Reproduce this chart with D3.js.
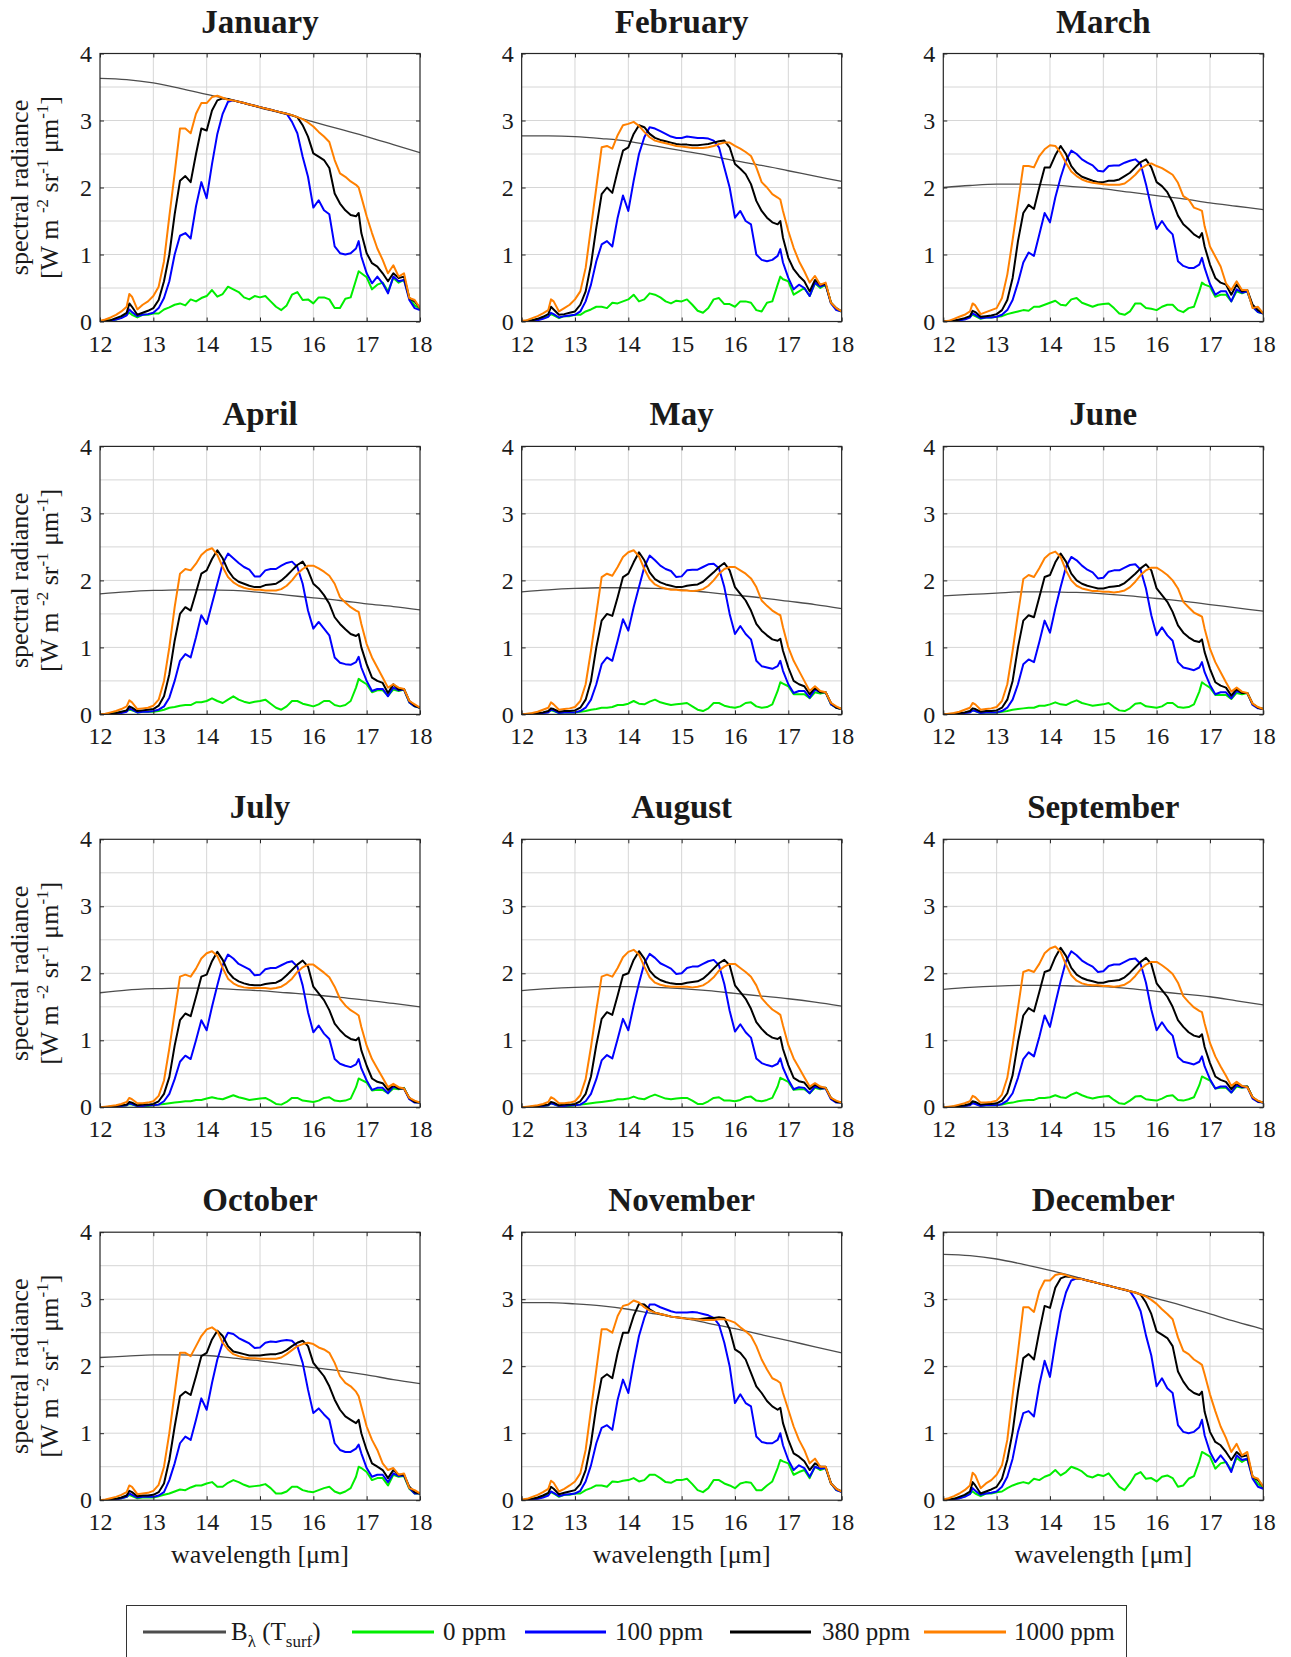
<!DOCTYPE html>
<html><head><meta charset="utf-8">
<script src="https://cdn.jsdelivr.net/npm/d3@7"></script>
<style>
body{margin:0;background:#fff}
svg text{font-family:"Liberation Serif","Times New Roman",serif;fill:#1a1a1a}
</style>
</head><body>
<svg id="chart" width="1291" height="1657"></svg>
<script>
// ---------------- DATA ----------------
const wavelength = [12.0,12.1,12.2,12.3,12.4,12.5,12.55,12.6,12.7,12.8,12.9,13.0,13.1,13.2,13.3,13.4,13.5,13.6,13.7,13.8,13.9,14.0,14.1,14.2,14.3,14.4,14.5,14.6,14.7,14.8,14.9,15.0,15.1,15.2,15.3,15.4,15.5,15.6,15.7,15.8,15.9,16.0,16.1,16.2,16.3,16.4,16.5,16.6,16.7,16.8,16.85,16.9,17.0,17.1,17.2,17.3,17.4,17.5,17.6,17.7,17.8,17.9,18.0];
const planckWavelength = [12,12.5,13,13.5,14,14.5,15,15.5,16,16.5,17,17.5,18];
const months = ["January","February","March","April","May","June","July","August","September","October","November","December"];
const legendLabels = ["0 ppm","100 ppm","380 ppm","1000 ppm"];
const xTickValues = [12,13,14,15,16,17,18];
const yTickValues = [0,1,2,3,4];

// January
const janPlanck = [3.63,3.61,3.56,3.48,3.39,3.30,3.19,3.09,2.98,2.87,2.76,2.64,2.52];
const janGreen = [0.00,0.01,0.02,0.03,0.06,0.10, 0.13, 0.10,0.06,0.10,0.10, 0.12,0.12,0.18,0.21,0.25,0.27,0.24,0.33,0.30,0.35, 0.38,0.47,0.37,0.41,0.52,0.48,0.44,0.36,0.33,0.38, 0.36,0.38,0.30,0.22,0.17,0.24,0.40,0.44,0.32,0.33, 0.27,0.36,0.36,0.33,0.20,0.20,0.34,0.36,0.62, 0.75, 0.72, 0.66,0.48,0.55,0.58,0.45,0.65,0.58,0.62,0.35,0.24, 0.19];
const janBlue = [0.00,0.00,0.01,0.03,0.05,0.09, 0.18, 0.14,0.08,0.10,0.11, 0.13,0.20,0.35,0.60,1.00,1.28,1.32,1.24,1.72,2.08, 1.84,2.35,2.80,3.10,3.28,3.30,3.28,3.26,3.24,3.22, 3.20,3.18,3.16,3.14,3.12,3.10,2.98,2.81,2.46,2.16, 1.70,1.81,1.66,1.60,1.12,1.02,1.00,1.02,1.09, 1.20, 0.97, 0.72,0.57,0.67,0.57,0.42,0.67,0.60,0.62,0.32,0.20, 0.17];
const janBlack = [0.00,0.01,0.02,0.05,0.08,0.13, 0.27, 0.22,0.10,0.13,0.16, 0.20,0.32,0.60,1.00,1.60,2.10,2.17,2.08,2.50,2.88, 2.85,3.15,3.30,3.33,3.32,3.30,3.28,3.26,3.24,3.22, 3.20,3.18,3.16,3.14,3.12,3.10,3.08,3.05,2.93,2.76, 2.51,2.46,2.41,2.29,1.91,1.76,1.66,1.59,1.57, 1.62, 1.32, 1.02,0.87,0.82,0.72,0.60,0.72,0.65,0.67,0.35,0.30, 0.20];
const janOrange = [0.01,0.03,0.06,0.10,0.15,0.22, 0.41, 0.37,0.18,0.25,0.30, 0.38,0.52,0.90,1.57,2.21,2.88,2.88,2.81,3.10,3.26, 3.26,3.35,3.37,3.34,3.31,3.30,3.28,3.26,3.24,3.22, 3.20,3.18,3.16,3.14,3.12,3.10,3.08,3.05,3.02,2.97, 2.91,2.83,2.76,2.68,2.41,2.21,2.16,2.09,2.04, 2.00, 1.86, 1.57,1.32,1.09,0.92,0.72,0.84,0.67,0.72,0.35,0.32, 0.20];

// February
const febPlanck = [2.77,2.77,2.76,2.73,2.69,2.62,2.55,2.48,2.40,2.33,2.25,2.17,2.09];
const febGreen = [0.00,0.01,0.02,0.03,0.05,0.08, 0.11, 0.09,0.05,0.08,0.08, 0.10,0.10,0.15,0.18,0.22,0.22,0.20,0.28,0.27,0.30, 0.33,0.40,0.30,0.33,0.42,0.40,0.36,0.30,0.27,0.31, 0.30,0.33,0.25,0.16,0.13,0.20,0.33,0.35,0.26,0.26, 0.22,0.30,0.30,0.28,0.17,0.15,0.28,0.30,0.55, 0.67, 0.63, 0.60,0.40,0.45,0.50,0.38,0.57,0.50,0.55,0.28,0.18, 0.15];
const febBlue = [0.00,0.00,0.01,0.02,0.04,0.07, 0.13, 0.11,0.06,0.08,0.09, 0.10,0.15,0.30,0.55,0.90,1.15,1.20,1.12,1.55,1.88, 1.65,2.10,2.50,2.75,2.90,2.88,2.84,2.80,2.76,2.74, 2.74,2.76,2.75,2.74,2.74,2.73,2.70,2.60,2.30,2.00, 1.55,1.65,1.50,1.45,1.00,0.92,0.90,0.92,0.98, 1.08, 0.88, 0.65,0.48,0.55,0.50,0.38,0.58,0.52,0.55,0.27,0.17, 0.15];
const febBlack = [0.00,0.01,0.02,0.04,0.07,0.11, 0.22, 0.18,0.10,0.11,0.13, 0.15,0.25,0.45,0.85,1.40,1.90,2.00,1.92,2.25,2.55, 2.60,2.80,2.93,2.90,2.80,2.74,2.71,2.69,2.67,2.65, 2.64,2.64,2.63,2.63,2.64,2.65,2.67,2.69,2.70,2.60, 2.35,2.28,2.20,2.05,1.80,1.65,1.55,1.48,1.45, 1.50, 1.25, 0.95,0.78,0.68,0.60,0.45,0.62,0.55,0.56,0.28,0.20, 0.15];
const febOrange = [0.01,0.02,0.05,0.08,0.12,0.17, 0.33, 0.30,0.15,0.20,0.25, 0.33,0.45,0.80,1.40,2.00,2.60,2.62,2.58,2.78,2.93, 2.95,2.98,2.92,2.83,2.75,2.70,2.68,2.66,2.64,2.62, 2.61,2.60,2.59,2.59,2.59,2.60,2.62,2.65,2.67,2.67, 2.62,2.58,2.53,2.47,2.30,2.08,2.00,1.90,1.85, 1.82, 1.65, 1.35,1.10,0.90,0.75,0.58,0.68,0.55,0.58,0.28,0.20, 0.15];

// March
const marPlanck = [2.00,2.03,2.05,2.05,2.04,2.01,1.98,1.93,1.88,1.83,1.77,1.72,1.67];
const marGreen = [0.00,0.00,0.01,0.02,0.04,0.07, 0.10, 0.08,0.04,0.06,0.06, 0.07,0.08,0.11,0.13,0.15,0.17,0.16,0.22,0.22,0.25, 0.28,0.31,0.25,0.24,0.33,0.35,0.28,0.25,0.22,0.25, 0.26,0.27,0.20,0.12,0.10,0.15,0.27,0.27,0.20,0.19, 0.17,0.22,0.25,0.25,0.17,0.14,0.20,0.22,0.45, 0.58, 0.55, 0.52,0.37,0.40,0.40,0.30,0.45,0.42,0.45,0.22,0.14, 0.12];
const marBlue = [0.00,0.00,0.01,0.02,0.03,0.06, 0.12, 0.10,0.05,0.06,0.06, 0.07,0.10,0.17,0.32,0.58,0.88,1.03,0.98,1.30,1.62, 1.48,1.85,2.15,2.40,2.55,2.50,2.42,2.37,2.33,2.25, 2.24,2.32,2.33,2.33,2.37,2.40,2.42,2.35,2.05,1.70, 1.38,1.50,1.38,1.30,0.90,0.83,0.80,0.80,0.85, 0.95, 0.80, 0.56,0.40,0.45,0.45,0.30,0.48,0.43,0.45,0.22,0.14, 0.12];
const marBlack = [0.00,0.00,0.01,0.03,0.05,0.08, 0.16, 0.14,0.07,0.08,0.09, 0.11,0.17,0.32,0.65,1.20,1.62,1.74,1.68,2.00,2.30, 2.30,2.48,2.62,2.50,2.32,2.22,2.16,2.13,2.10,2.08, 2.08,2.10,2.10,2.12,2.17,2.22,2.30,2.38,2.42,2.30, 2.08,2.02,1.93,1.78,1.58,1.45,1.38,1.30,1.25, 1.32, 1.12, 0.85,0.65,0.58,0.55,0.40,0.55,0.45,0.47,0.25,0.17, 0.12];
const marOrange = [0.00,0.01,0.04,0.07,0.10,0.15, 0.27, 0.24,0.11,0.14,0.17, 0.20,0.35,0.70,1.22,1.77,2.32,2.32,2.30,2.47,2.57, 2.63,2.62,2.52,2.37,2.24,2.17,2.12,2.09,2.07,2.06, 2.05,2.04,2.04,2.04,2.06,2.12,2.19,2.28,2.33,2.36, 2.32,2.29,2.24,2.19,2.07,1.87,1.82,1.70,1.67, 1.65, 1.42, 1.12,0.97,0.82,0.57,0.47,0.60,0.47,0.47,0.20,0.22, 0.12];

// April
const aprPlanck = [1.80,1.83,1.85,1.86,1.86,1.85,1.82,1.78,1.74,1.70,1.65,1.61,1.56];
const aprGreen = [0.00,0.00,0.01,0.02,0.03,0.05, 0.07, 0.06,0.03,0.04,0.04, 0.04,0.05,0.07,0.10,0.11,0.13,0.14,0.14,0.18,0.18, 0.20,0.24,0.20,0.17,0.22,0.27,0.22,0.19,0.17,0.19, 0.20,0.22,0.16,0.10,0.07,0.12,0.20,0.20,0.16,0.14, 0.12,0.15,0.20,0.20,0.14,0.12,0.14,0.20,0.40, 0.53, 0.50, 0.45,0.33,0.36,0.36,0.28,0.37,0.35,0.37,0.18,0.12, 0.10];
const aprBlue = [0.00,0.00,0.00,0.01,0.02,0.04, 0.09, 0.07,0.03,0.04,0.04, 0.05,0.07,0.12,0.25,0.50,0.80,0.90,0.85,1.15,1.48, 1.35,1.65,1.95,2.25,2.40,2.33,2.26,2.20,2.16,2.06, 2.06,2.15,2.17,2.17,2.22,2.26,2.28,2.20,1.95,1.55, 1.28,1.38,1.28,1.18,0.85,0.77,0.75,0.74,0.78, 0.86, 0.70, 0.50,0.35,0.38,0.38,0.27,0.40,0.36,0.37,0.18,0.12, 0.10];
const aprBlack = [0.00,0.00,0.01,0.02,0.04,0.06, 0.12, 0.10,0.05,0.06,0.07, 0.08,0.13,0.27,0.60,1.10,1.50,1.60,1.55,1.82,2.10, 2.15,2.32,2.45,2.33,2.15,2.04,1.98,1.95,1.92,1.90, 1.90,1.93,1.94,1.95,2.00,2.07,2.15,2.23,2.28,2.15, 1.95,1.88,1.78,1.65,1.45,1.35,1.27,1.20,1.17, 1.20, 1.00, 0.75,0.55,0.50,0.47,0.32,0.45,0.37,0.38,0.20,0.13, 0.10];
const aprOrange = [0.00,0.01,0.03,0.05,0.08,0.12, 0.21, 0.18,0.08,0.09,0.10, 0.13,0.22,0.50,1.00,1.60,2.10,2.17,2.15,2.25,2.38, 2.45,2.48,2.38,2.20,2.05,1.97,1.92,1.89,1.87,1.86, 1.86,1.85,1.85,1.85,1.87,1.92,2.00,2.10,2.17,2.22, 2.22,2.18,2.13,2.07,1.95,1.75,1.67,1.60,1.55, 1.53, 1.35, 1.05,0.85,0.70,0.55,0.40,0.45,0.40,0.38,0.20,0.15, 0.10];

// May
const mayPlanck = [1.83,1.86,1.88,1.89,1.89,1.88,1.86,1.82,1.78,1.74,1.69,1.64,1.58];
const mayGreen = [0.00,0.00,0.01,0.01,0.02,0.04, 0.06, 0.05,0.02,0.03,0.03, 0.03,0.04,0.05,0.07,0.08,0.10,0.10,0.11,0.14,0.14, 0.16,0.20,0.16,0.15,0.19,0.22,0.18,0.16,0.14,0.15, 0.16,0.17,0.12,0.07,0.05,0.09,0.17,0.17,0.13,0.11, 0.10,0.12,0.17,0.18,0.12,0.10,0.11,0.15,0.35, 0.48, 0.46, 0.42,0.30,0.30,0.30,0.24,0.33,0.31,0.33,0.15,0.10, 0.08];
const mayBlue = [0.00,0.00,0.00,0.01,0.02,0.03, 0.07, 0.06,0.02,0.03,0.03, 0.03,0.05,0.10,0.22,0.45,0.75,0.85,0.80,1.10,1.42, 1.25,1.60,1.90,2.20,2.37,2.30,2.22,2.17,2.14,2.05, 2.06,2.15,2.16,2.16,2.20,2.24,2.25,2.18,1.90,1.50, 1.20,1.32,1.20,1.12,0.80,0.72,0.70,0.68,0.72, 0.80, 0.65, 0.45,0.32,0.35,0.35,0.25,0.37,0.33,0.33,0.15,0.10, 0.08];
const mayBlack = [0.00,0.00,0.01,0.02,0.03,0.05, 0.09, 0.08,0.04,0.05,0.05, 0.06,0.10,0.22,0.50,1.00,1.40,1.50,1.47,1.75,2.05, 2.10,2.27,2.42,2.30,2.12,2.02,1.97,1.94,1.92,1.90, 1.90,1.92,1.93,1.94,1.98,2.05,2.12,2.20,2.26,2.15, 1.90,1.80,1.70,1.55,1.35,1.25,1.18,1.12,1.10, 1.13, 0.95, 0.70,0.50,0.45,0.42,0.30,0.40,0.33,0.33,0.17,0.10, 0.08];
const mayOrange = [0.00,0.01,0.02,0.04,0.07,0.10, 0.18, 0.15,0.07,0.08,0.09, 0.11,0.20,0.45,0.95,1.50,2.05,2.10,2.07,2.20,2.35, 2.42,2.45,2.36,2.17,2.02,1.94,1.90,1.88,1.86,1.86, 1.85,1.85,1.84,1.85,1.87,1.92,2.00,2.10,2.17,2.20, 2.20,2.15,2.10,2.03,1.90,1.70,1.62,1.55,1.50, 1.48, 1.30, 1.00,0.80,0.65,0.50,0.35,0.42,0.35,0.33,0.17,0.12, 0.08];

// June
const junPlanck = [1.77,1.79,1.81,1.83,1.83,1.82,1.80,1.77,1.73,1.69,1.64,1.59,1.54];
const junGreen = [0.00,0.00,0.01,0.01,0.02,0.04, 0.06, 0.05,0.02,0.03,0.03, 0.03,0.04,0.05,0.07,0.08,0.09,0.10,0.10,0.13,0.13, 0.15,0.18,0.15,0.14,0.18,0.21,0.17,0.15,0.13,0.14, 0.15,0.17,0.11,0.06,0.05,0.09,0.16,0.17,0.12,0.11, 0.10,0.12,0.17,0.17,0.11,0.10,0.11,0.15,0.34, 0.48, 0.45, 0.40,0.29,0.29,0.29,0.23,0.32,0.30,0.32,0.15,0.10, 0.08];
const junBlue = [0.00,0.00,0.00,0.01,0.02,0.03, 0.06, 0.05,0.02,0.03,0.03, 0.03,0.05,0.10,0.22,0.45,0.75,0.82,0.78,1.08,1.40, 1.22,1.58,1.90,2.20,2.35,2.30,2.22,2.16,2.12,2.03, 2.04,2.13,2.15,2.15,2.19,2.23,2.24,2.16,1.88,1.48, 1.18,1.30,1.18,1.10,0.78,0.70,0.68,0.66,0.70, 0.78, 0.63, 0.44,0.30,0.33,0.33,0.24,0.35,0.32,0.32,0.14,0.09, 0.08];
const junBlack = [0.00,0.00,0.01,0.02,0.03,0.05, 0.09, 0.08,0.04,0.05,0.05, 0.06,0.10,0.22,0.50,1.00,1.40,1.48,1.45,1.75,2.05, 2.08,2.27,2.40,2.28,2.10,2.00,1.95,1.92,1.90,1.88, 1.88,1.90,1.91,1.92,1.96,2.03,2.10,2.18,2.24,2.15, 1.88,1.78,1.68,1.53,1.33,1.22,1.15,1.10,1.08, 1.12, 0.93, 0.68,0.48,0.43,0.40,0.28,0.38,0.32,0.32,0.16,0.10, 0.08];
const junOrange = [0.00,0.01,0.02,0.04,0.07,0.10, 0.17, 0.15,0.07,0.08,0.09, 0.11,0.20,0.45,0.95,1.50,2.02,2.08,2.05,2.18,2.33, 2.40,2.43,2.35,2.15,2.00,1.92,1.88,1.86,1.84,1.84, 1.83,1.83,1.82,1.83,1.85,1.90,1.98,2.08,2.15,2.19, 2.19,2.14,2.08,2.00,1.88,1.68,1.60,1.52,1.48, 1.46, 1.28, 0.98,0.78,0.63,0.48,0.34,0.40,0.34,0.32,0.16,0.11, 0.08];

// July
const julPlanck = [1.71,1.75,1.77,1.78,1.78,1.76,1.74,1.71,1.68,1.64,1.60,1.55,1.50];
const julGreen = [0.00,0.00,0.01,0.01,0.02,0.03, 0.05, 0.04,0.02,0.02,0.02, 0.03,0.04,0.05,0.06,0.07,0.08,0.09,0.09,0.11,0.11, 0.13,0.15,0.13,0.12,0.15,0.18,0.15,0.13,0.11,0.12, 0.13,0.14,0.10,0.05,0.04,0.08,0.14,0.14,0.10,0.09, 0.08,0.10,0.14,0.15,0.10,0.09,0.10,0.13,0.30, 0.43, 0.41, 0.37,0.25,0.26,0.26,0.21,0.28,0.27,0.29,0.13,0.08, 0.07];
const julBlue = [0.00,0.00,0.00,0.01,0.02,0.03, 0.06, 0.05,0.02,0.02,0.03, 0.03,0.04,0.09,0.20,0.42,0.68,0.77,0.72,1.00,1.30, 1.15,1.50,1.82,2.12,2.28,2.22,2.14,2.10,2.06,1.97, 1.98,2.06,2.08,2.08,2.12,2.16,2.18,2.10,1.82,1.42, 1.12,1.22,1.10,1.02,0.72,0.65,0.62,0.60,0.64, 0.72, 0.58, 0.40,0.26,0.29,0.29,0.21,0.31,0.28,0.28,0.12,0.07, 0.07];
const julBlack = [0.00,0.00,0.01,0.02,0.03,0.04, 0.08, 0.07,0.03,0.04,0.04, 0.05,0.09,0.20,0.45,0.92,1.30,1.40,1.36,1.65,1.95, 1.98,2.18,2.32,2.20,2.02,1.93,1.88,1.85,1.83,1.82, 1.82,1.84,1.85,1.86,1.90,1.97,2.05,2.13,2.19,2.10, 1.80,1.70,1.60,1.45,1.25,1.15,1.07,1.02,1.00, 1.04, 0.85, 0.62,0.43,0.38,0.36,0.26,0.33,0.28,0.28,0.14,0.08, 0.07];
const julOrange = [0.00,0.01,0.02,0.03,0.05,0.08, 0.14, 0.12,0.06,0.06,0.07, 0.09,0.17,0.40,0.88,1.42,1.95,1.98,1.95,2.07,2.22, 2.30,2.33,2.26,2.08,1.92,1.85,1.81,1.79,1.78,1.78, 1.78,1.78,1.77,1.78,1.80,1.85,1.92,2.02,2.09,2.13, 2.13,2.07,2.01,1.94,1.80,1.62,1.52,1.45,1.40, 1.37, 1.20, 0.92,0.72,0.58,0.44,0.30,0.35,0.30,0.28,0.14,0.10, 0.07];

// August
const augPlanck = [1.74,1.77,1.79,1.80,1.80,1.79,1.77,1.74,1.70,1.66,1.62,1.57,1.51];
const augGreen = [0.00,0.00,0.01,0.01,0.02,0.03, 0.06, 0.05,0.02,0.02,0.02, 0.03,0.04,0.05,0.06,0.07,0.08,0.09,0.10,0.12,0.12, 0.13,0.16,0.13,0.12,0.16,0.19,0.16,0.13,0.12,0.13, 0.14,0.14,0.10,0.05,0.05,0.09,0.14,0.15,0.10,0.10, 0.09,0.11,0.15,0.16,0.10,0.09,0.11,0.14,0.31, 0.44, 0.42, 0.38,0.26,0.27,0.27,0.21,0.29,0.27,0.29,0.13,0.08, 0.07];
const augBlue = [0.00,0.00,0.00,0.01,0.02,0.03, 0.06, 0.05,0.02,0.02,0.03, 0.03,0.04,0.09,0.20,0.42,0.70,0.78,0.73,1.02,1.32, 1.15,1.52,1.85,2.15,2.29,2.23,2.15,2.11,2.07,1.99, 2.00,2.08,2.10,2.10,2.14,2.18,2.20,2.12,1.84,1.44, 1.13,1.24,1.12,1.04,0.73,0.66,0.63,0.61,0.65, 0.73, 0.59, 0.41,0.27,0.30,0.29,0.21,0.31,0.28,0.28,0.12,0.07, 0.07];
const augBlack = [0.00,0.00,0.01,0.02,0.03,0.04, 0.08, 0.07,0.03,0.04,0.04, 0.05,0.09,0.20,0.46,0.93,1.32,1.42,1.38,1.67,1.97, 2.00,2.20,2.33,2.22,2.04,1.95,1.90,1.87,1.85,1.84, 1.84,1.86,1.87,1.88,1.92,1.99,2.07,2.15,2.20,2.12, 1.82,1.72,1.62,1.47,1.27,1.17,1.09,1.04,1.02, 1.05, 0.87, 0.63,0.44,0.39,0.37,0.27,0.34,0.29,0.29,0.14,0.08, 0.07];
const augOrange = [0.00,0.01,0.02,0.03,0.05,0.08, 0.15, 0.13,0.06,0.06,0.07, 0.09,0.18,0.42,0.90,1.45,1.95,1.98,1.95,2.08,2.24, 2.32,2.35,2.28,2.10,1.94,1.86,1.83,1.81,1.80,1.80, 1.80,1.80,1.79,1.80,1.82,1.87,1.94,2.04,2.10,2.14, 2.14,2.08,2.02,1.95,1.82,1.63,1.54,1.46,1.41, 1.38, 1.22, 0.93,0.73,0.59,0.45,0.31,0.36,0.31,0.29,0.14,0.10, 0.07];

// September
const sepPlanck = [1.76,1.79,1.81,1.82,1.82,1.81,1.80,1.77,1.73,1.69,1.65,1.59,1.53];
const sepGreen = [0.00,0.00,0.01,0.01,0.02,0.04, 0.07, 0.06,0.02,0.03,0.03, 0.03,0.04,0.06,0.07,0.09,0.10,0.11,0.11,0.14,0.14, 0.15,0.18,0.15,0.14,0.19,0.22,0.18,0.15,0.13,0.15, 0.16,0.17,0.11,0.06,0.05,0.10,0.16,0.17,0.12,0.11, 0.10,0.13,0.17,0.18,0.11,0.10,0.12,0.15,0.33, 0.46, 0.44, 0.40,0.28,0.29,0.29,0.22,0.31,0.29,0.31,0.14,0.09, 0.07];
const sepBlue = [0.00,0.00,0.00,0.01,0.02,0.03, 0.06, 0.05,0.02,0.03,0.03, 0.03,0.05,0.10,0.21,0.44,0.72,0.82,0.76,1.05,1.37, 1.20,1.55,1.88,2.18,2.33,2.27,2.19,2.14,2.10,2.02, 2.03,2.11,2.13,2.13,2.17,2.21,2.22,2.14,1.86,1.46, 1.15,1.27,1.15,1.07,0.75,0.68,0.66,0.64,0.68, 0.76, 0.61, 0.42,0.28,0.31,0.31,0.22,0.33,0.30,0.30,0.13,0.08, 0.07];
const sepBlack = [0.00,0.00,0.01,0.02,0.03,0.05, 0.09, 0.08,0.04,0.05,0.05, 0.06,0.10,0.21,0.48,0.97,1.37,1.48,1.43,1.72,2.02, 2.05,2.24,2.38,2.26,2.08,1.98,1.93,1.90,1.88,1.86, 1.86,1.88,1.89,1.90,1.94,2.01,2.09,2.17,2.23,2.14, 1.85,1.75,1.65,1.50,1.30,1.20,1.12,1.07,1.05, 1.09, 0.90, 0.66,0.46,0.41,0.38,0.27,0.36,0.31,0.31,0.15,0.09, 0.07];
const sepOrange = [0.00,0.01,0.02,0.04,0.06,0.09, 0.17, 0.15,0.07,0.07,0.08, 0.10,0.19,0.44,0.93,1.48,2.02,2.05,2.02,2.14,2.30, 2.37,2.40,2.32,2.13,1.97,1.89,1.85,1.83,1.82,1.82, 1.81,1.81,1.80,1.81,1.83,1.88,1.96,2.06,2.13,2.17, 2.17,2.12,2.06,1.99,1.86,1.66,1.57,1.49,1.44, 1.42, 1.25, 0.96,0.76,0.61,0.47,0.32,0.38,0.32,0.30,0.15,0.10, 0.07];

// October
const octPlanck = [2.13,2.15,2.17,2.17,2.16,2.12,2.08,2.03,1.98,1.93,1.87,1.80,1.74];
const octGreen = [0.00,0.00,0.01,0.02,0.03,0.05, 0.08, 0.06,0.03,0.04,0.04, 0.04,0.06,0.08,0.10,0.13,0.16,0.15,0.19,0.22,0.22, 0.25,0.27,0.20,0.20,0.26,0.30,0.27,0.23,0.20,0.21, 0.22,0.24,0.18,0.10,0.10,0.13,0.20,0.20,0.15,0.13, 0.12,0.15,0.18,0.20,0.13,0.10,0.13,0.18,0.35, 0.50, 0.48, 0.42,0.30,0.33,0.33,0.22,0.38,0.35,0.36,0.17,0.10, 0.10];
const octBlue = [0.00,0.00,0.01,0.01,0.03,0.05, 0.10, 0.08,0.04,0.05,0.05, 0.05,0.07,0.12,0.30,0.55,0.85,0.95,0.90,1.20,1.52, 1.35,1.75,2.10,2.35,2.50,2.48,2.42,2.38,2.34,2.27, 2.28,2.35,2.37,2.36,2.38,2.39,2.38,2.30,2.05,1.65, 1.30,1.37,1.28,1.20,0.85,0.75,0.72,0.72,0.77, 0.83, 0.70, 0.48,0.35,0.38,0.38,0.27,0.40,0.36,0.37,0.18,0.10, 0.10];
const octBlack = [0.00,0.00,0.01,0.02,0.04,0.07, 0.14, 0.12,0.06,0.07,0.07, 0.08,0.12,0.25,0.60,1.10,1.55,1.62,1.57,1.85,2.15, 2.20,2.40,2.53,2.45,2.30,2.22,2.20,2.18,2.16,2.16, 2.16,2.17,2.18,2.18,2.20,2.24,2.30,2.35,2.38,2.30, 2.05,1.95,1.85,1.70,1.50,1.35,1.25,1.20,1.15, 1.20, 1.00, 0.75,0.55,0.50,0.45,0.33,0.45,0.38,0.38,0.20,0.12, 0.10];
const octOrange = [0.00,0.01,0.03,0.05,0.08,0.12, 0.22, 0.20,0.09,0.10,0.11, 0.14,0.23,0.50,1.00,1.60,2.20,2.20,2.15,2.30,2.45, 2.55,2.58,2.52,2.35,2.25,2.18,2.15,2.13,2.12,2.12, 2.11,2.11,2.11,2.11,2.13,2.18,2.24,2.30,2.33,2.35, 2.33,2.28,2.25,2.20,2.05,1.85,1.75,1.70,1.62, 1.55, 1.40, 1.10,0.90,0.75,0.55,0.45,0.48,0.38,0.40,0.18,0.15, 0.10];

// November
const novPlanck = [2.95,2.95,2.93,2.90,2.85,2.78,2.72,2.64,2.56,2.47,2.38,2.29,2.20];
const novGreen = [0.00,0.01,0.02,0.03,0.05,0.09, 0.12, 0.10,0.05,0.08,0.08, 0.10,0.10,0.15,0.18,0.22,0.22,0.20,0.28,0.27,0.29, 0.30,0.33,0.28,0.30,0.38,0.38,0.33,0.27,0.26,0.30, 0.30,0.32,0.24,0.15,0.12,0.18,0.30,0.30,0.25,0.22, 0.18,0.25,0.27,0.26,0.15,0.15,0.22,0.28,0.48, 0.60, 0.58, 0.55,0.38,0.42,0.45,0.33,0.50,0.45,0.48,0.25,0.15, 0.13];
const novBlue = [0.00,0.00,0.01,0.02,0.04,0.07, 0.13, 0.11,0.06,0.08,0.09, 0.10,0.14,0.28,0.52,0.85,1.08,1.12,1.05,1.50,1.80, 1.60,2.05,2.45,2.72,2.92,2.92,2.88,2.85,2.82,2.80, 2.80,2.80,2.81,2.80,2.78,2.76,2.72,2.62,2.35,2.00, 1.45,1.58,1.45,1.40,0.95,0.87,0.85,0.85,0.90, 1.00, 0.82, 0.60,0.45,0.52,0.48,0.35,0.50,0.47,0.48,0.25,0.15, 0.12];
const novBlack = [0.00,0.01,0.02,0.04,0.07,0.11, 0.20, 0.17,0.09,0.11,0.13, 0.15,0.24,0.45,0.85,1.40,1.82,1.88,1.82,2.20,2.50, 2.50,2.75,2.93,2.92,2.85,2.80,2.78,2.76,2.74,2.73, 2.72,2.71,2.71,2.70,2.71,2.72,2.72,2.73,2.72,2.55, 2.25,2.20,2.10,1.90,1.70,1.60,1.48,1.40,1.35, 1.38, 1.15, 0.90,0.70,0.65,0.58,0.45,0.55,0.50,0.50,0.25,0.17, 0.13];
const novOrange = [0.01,0.02,0.05,0.08,0.12,0.17, 0.29, 0.26,0.13,0.17,0.22, 0.28,0.40,0.75,1.35,1.95,2.55,2.55,2.50,2.75,2.90, 2.92,2.98,2.95,2.88,2.83,2.80,2.78,2.76,2.74,2.73, 2.72,2.71,2.70,2.70,2.69,2.69,2.69,2.70,2.70,2.68, 2.65,2.58,2.52,2.45,2.30,2.10,1.95,1.82,1.78, 1.75, 1.60, 1.35,1.10,0.90,0.75,0.55,0.62,0.50,0.50,0.25,0.17, 0.13];

// December
const decPlanck = [3.67,3.65,3.60,3.52,3.43,3.33,3.22,3.12,3.01,2.90,2.78,2.66,2.55];
const decGreen = [0.00,0.01,0.02,0.03,0.06,0.10, 0.13, 0.10,0.06,0.10,0.10, 0.12,0.13,0.18,0.22,0.25,0.27,0.25,0.32,0.30,0.35, 0.38,0.45,0.37,0.42,0.50,0.47,0.43,0.36,0.34,0.38, 0.36,0.40,0.30,0.20,0.15,0.25,0.38,0.42,0.32,0.33, 0.28,0.35,0.37,0.33,0.20,0.22,0.32,0.36,0.58, 0.72, 0.70, 0.65,0.47,0.55,0.57,0.45,0.63,0.57,0.62,0.35,0.24, 0.19];
const decBlue = [0.00,0.00,0.01,0.03,0.05,0.09, 0.18, 0.14,0.08,0.10,0.11, 0.13,0.20,0.35,0.62,1.02,1.30,1.33,1.25,1.72,2.08, 1.84,2.35,2.80,3.10,3.28,3.31,3.30,3.28,3.26,3.24, 3.22,3.20,3.18,3.16,3.14,3.12,3.00,2.82,2.46,2.16, 1.70,1.82,1.67,1.60,1.12,1.02,1.00,1.02,1.09, 1.20, 0.97, 0.72,0.57,0.67,0.57,0.42,0.67,0.60,0.62,0.32,0.20, 0.17];
const decBlack = [0.00,0.01,0.02,0.05,0.08,0.13, 0.27, 0.22,0.10,0.13,0.16, 0.20,0.32,0.60,1.02,1.62,2.12,2.18,2.10,2.52,2.90, 2.87,3.17,3.31,3.34,3.33,3.31,3.30,3.28,3.26,3.24, 3.22,3.20,3.18,3.16,3.14,3.12,3.10,3.07,2.95,2.78, 2.52,2.47,2.42,2.30,1.92,1.77,1.66,1.60,1.57, 1.62, 1.32, 1.02,0.87,0.82,0.72,0.60,0.72,0.65,0.67,0.35,0.30, 0.20];
const decOrange = [0.01,0.03,0.06,0.10,0.15,0.22, 0.41, 0.37,0.18,0.25,0.30, 0.38,0.52,0.90,1.57,2.21,2.88,2.88,2.81,3.12,3.28, 3.28,3.36,3.38,3.36,3.33,3.31,3.30,3.28,3.26,3.24, 3.22,3.20,3.18,3.16,3.14,3.12,3.10,3.07,3.04,2.99, 2.93,2.85,2.78,2.70,2.43,2.23,2.18,2.10,2.05, 2.02, 1.88, 1.58,1.33,1.10,0.93,0.72,0.84,0.67,0.72,0.35,0.32, 0.20];

// ---------------- BUILD ----------------
const monthSeries = [
  [janPlanck, janGreen, janBlue, janBlack, janOrange],
  [febPlanck, febGreen, febBlue, febBlack, febOrange],
  [marPlanck, marGreen, marBlue, marBlack, marOrange],
  [aprPlanck, aprGreen, aprBlue, aprBlack, aprOrange],
  [mayPlanck, mayGreen, mayBlue, mayBlack, mayOrange],
  [junPlanck, junGreen, junBlue, junBlack, junOrange],
  [julPlanck, julGreen, julBlue, julBlack, julOrange],
  [augPlanck, augGreen, augBlue, augBlack, augOrange],
  [sepPlanck, sepGreen, sepBlue, sepBlack, sepOrange],
  [octPlanck, octGreen, octBlue, octBlack, octOrange],
  [novPlanck, novGreen, novBlue, novBlack, novOrange],
  [decPlanck, decGreen, decBlue, decBlack, decOrange]
];
const seriesColors = ["#00ee00","#0000ff","#000000","#ff8000"];
const planckColor = "#4d4d4d";

const svg = d3.select("#chart");
svg.append("rect").attr("width",1291).attr("height",1657).attr("fill","#fff");

const W = 320, H = 268;
const left0 = 100, colStep = 421.65, top0 = 53.5, rowStep = 392.9;

const x = d3.scaleLinear().domain([12,18]).range([0,W]);
const y = d3.scaleLinear().domain([0,4]).range([H,0]);

months.forEach((name, i) => {
  const col = i % 3, row = Math.floor(i / 3);
  const gx = left0 + col*colStep, gy = top0 + row*rowStep;
  const g = svg.append("g").attr("transform", `translate(${gx},${gy})`);
  const clipId = "clip" + i;
  g.append("clipPath").attr("id", clipId).append("rect").attr("width", W).attr("height", H);

  // grid
  const grid = g.append("g");
  grid.selectAll("line.gx").data([13,14,15,16,17]).join("line")
    .attr("x1", d=>x(d)).attr("x2", d=>x(d)).attr("y1",0).attr("y2",H)
    .attr("stroke","#d6d6d6").attr("stroke-width",1);
  grid.selectAll("line.gy").data([0.5,1,1.5,2,2.5,3,3.5]).join("line")
    .attr("y1", d=>y(d)).attr("y2", d=>y(d)).attr("x1",0).attr("x2",W)
    .attr("stroke","#d6d6d6").attr("stroke-width",1);

  // data
  const [planck, ...spectra] = monthSeries[i];
  const plot = g.append("g").attr("clip-path", `url(#${clipId})`);
  const planckLine = d3.line().x((d,j)=>x(planckWavelength[j])).y(d=>y(d)).curve(d3.curveMonotoneX);
  plot.append("path").attr("d", planckLine(planck)).attr("fill","none")
    .attr("stroke", planckColor).attr("stroke-width",1.3);
  const specLine = d3.line().x((d,j)=>x(wavelength[j])).y(d=>y(d));
  spectra.forEach((s, k) => {
    if (s.length !== wavelength.length) console.error("length mismatch", name, k, s.length);
    plot.append("path").attr("d", specLine(s)).attr("fill","none")
      .attr("stroke", seriesColors[k]).attr("stroke-width",2)
      .attr("stroke-linejoin","round");
  });

  // axes
  const ax = g.append("g").attr("transform",`translate(0,${H})`)
    .call(d3.axisBottom(x).tickValues(xTickValues).tickSizeInner(-4).tickSizeOuter(0).tickPadding(13).tickFormat(d3.format("d")));
  const ay = g.append("g")
    .call(d3.axisLeft(y).tickValues(yTickValues).tickSizeInner(-4).tickSizeOuter(0).tickPadding(8).tickFormat(d3.format("d")));
  const axT = g.append("g").call(d3.axisTop(x).tickValues(xTickValues).tickSizeInner(-4).tickSizeOuter(0).tickFormat(""));
  const ayR = g.append("g").attr("transform",`translate(${W},0)`)
    .call(d3.axisRight(y).tickValues(yTickValues).tickSizeInner(-4).tickSizeOuter(0).tickFormat(""));
  [ax, ay, axT, ayR].forEach(a => {
    a.select(".domain").remove();
    a.selectAll(".tick line").attr("stroke","#262626");
    a.selectAll(".tick text").attr("font-size",24).attr("font-family","Liberation Serif").attr("fill","#1a1a1a");
  });

  // box
  g.append("rect").attr("width",W).attr("height",H).attr("fill","none")
    .attr("stroke","#262626").attr("stroke-width",1.2);

  // title
  g.append("text").attr("x", W/2).attr("y", -21).attr("text-anchor","middle")
    .attr("font-size",33).attr("font-weight","bold").text(name);

  // y label
  if (col === 0) {
    const yl = svg.append("g").attr("transform", `translate(0,${gy + H/2}) rotate(-90)`);
    yl.append("text").attr("x",0).attr("y",28).attr("text-anchor","middle")
      .attr("font-size",26).text("spectral radiance");
    const t2 = yl.append("text").attr("x",0).attr("y",58).attr("text-anchor","middle").attr("font-size",26);
    t2.append("tspan").text("[W m ");
    t2.append("tspan").attr("font-size",17).attr("dy",-10).text("-2");
    t2.append("tspan").attr("dy",10).text(" sr");
    t2.append("tspan").attr("font-size",17).attr("dy",-10).text("-1");
    t2.append("tspan").attr("dy",10).text(" μm");
    t2.append("tspan").attr("font-size",17).attr("dy",-10).text("-1");
    t2.append("tspan").attr("dy",10).text("]");
  }
  // x label
  if (row === 3) {
    svg.append("text").attr("x", gx + W/2).attr("y", 1563).attr("text-anchor","middle")
      .attr("font-size",26).text("wavelength [μm]");
  }
});

// ---------------- LEGEND ----------------
const lg = svg.append("g");
lg.append("rect").attr("x",126.5).attr("y",1605.5).attr("width",1000).attr("height",120)
  .attr("fill","#fff").attr("stroke","#333").attr("stroke-width",1);
const legendItems = [
  {color: planckColor, x1:143, x2:226, tx:231},
  {color: seriesColors[0], x1:352, x2:434, tx:443},
  {color: seriesColors[1], x1:525, x2:606, tx:615},
  {color: seriesColors[2], x1:730, x2:811, tx:822},
  {color: seriesColors[3], x1:924, x2:1006, tx:1014}
];
legendItems.forEach((it, k) => {
  lg.append("line").attr("x1",it.x1).attr("x2",it.x2).attr("y1",1632).attr("y2",1632)
    .attr("stroke", it.color).attr("stroke-width", 3);
  const t = lg.append("text").attr("x", it.tx).attr("y", 1640).attr("font-size",25);
  if (k === 0) {
    t.append("tspan").text("B");
    t.append("tspan").attr("font-size",17).attr("dy",7).text("λ");
    t.append("tspan").attr("dy",-7).text(" (T");
    t.append("tspan").attr("font-size",17).attr("dy",7).text("surf");
    t.append("tspan").attr("dy",-7).text(")");
  } else {
    t.text(legendLabels[k-1]);
  }
});
</script>
</body></html>
